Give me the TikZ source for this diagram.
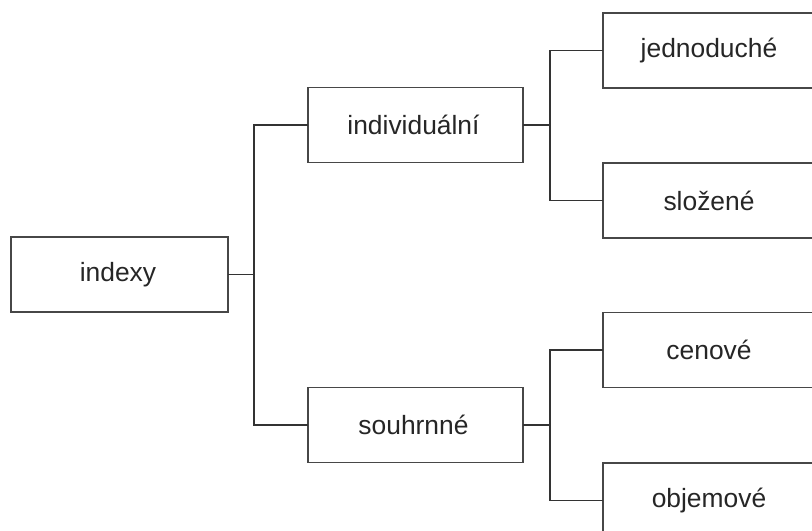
\documentclass[tikz,border=0pt]{standalone}
\usepackage{fontspec}
\setmainfont{Liberation Sans}
\begin{document}
\begin{tikzpicture}[x=1bp,y=-1bp,
  box/.style={draw=black!72, line width=1.5bp, fill=white, inner sep=0pt, outer sep=0pt,
    minimum width=215bp, minimum height=75bp, text=black!85,
    font=\fontsize{26.5}{30}\selectfont},
  conn/.style={draw=black!80, line width=1.4bp}]
\useasboundingbox (0,0) rectangle (812,531);
\clip (0,0) rectangle (812,531);
\node[box, minimum width=217bp] (indexy) at (119.5,274.5) {\hspace*{-3bp}indexy};
\node[box] (individualni) at (415.5,125) {\hspace*{-4bp}individuální};
\node[box] (souhrnne) at (415.5,425) {\hspace*{-4bp}souhrnné};
\node[box] (jednoduche) at (710.5,50.5) {\hspace*{-3bp}jednoduché};
\node[box] (slozene) at (710.5,200.5) {\hspace*{-3bp}složené};
\node[box] (cenove) at (710.5,350) {\hspace*{-3bp}cenové};
\node[box] (objemove) at (710.5,500.5) {\hspace*{-3bp}objemové};
\coordinate (trunk) at (254,274.5);
\coordinate (bup) at (550,125);
\coordinate (bdown) at (550,425);
\draw[conn] (indexy.east) -- (trunk);
\draw[conn] (individualni.west) -| (trunk) |- (souhrnne.west);
\draw[conn] (individualni.east) -- (bup);
\draw[conn] (jednoduche.west) -| (bup) |- (slozene.west);
\draw[conn] (souhrnne.east) -- (bdown);
\draw[conn] (cenove.west) -| (bdown) |- (objemove.west);
\end{tikzpicture}
\end{document}
